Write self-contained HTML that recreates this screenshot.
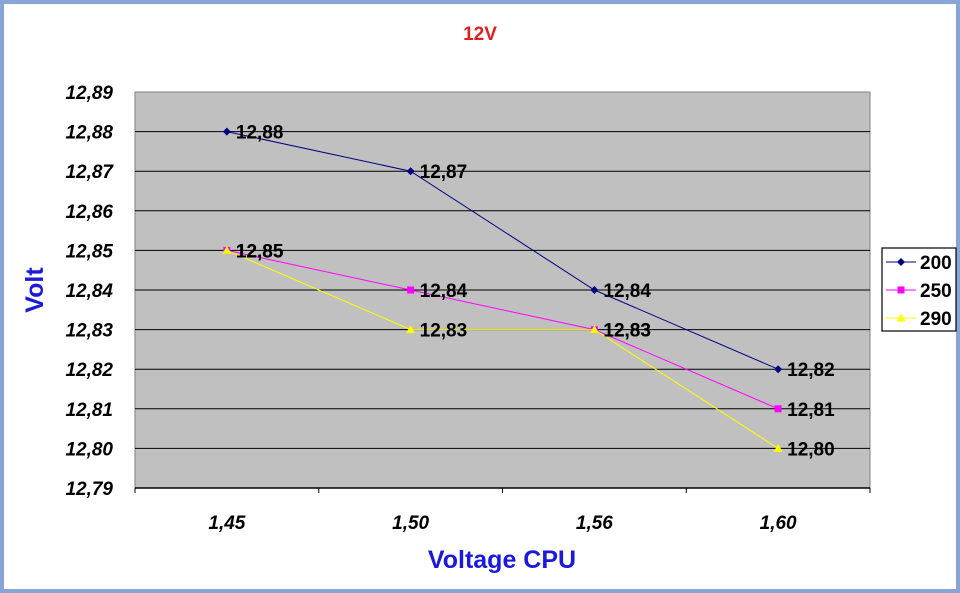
<!DOCTYPE html>
<html><head><meta charset="utf-8">
<style>
html,body{margin:0;padding:0;background:#fff;}
svg{display:block;font-family:"Liberation Sans",Arial,sans-serif;}
</style></head>
<body>
<svg id="chart" width="960" height="593" viewBox="0 0 960 593" xmlns="http://www.w3.org/2000/svg">
<rect x="0" y="0" width="960" height="593" fill="#fff"/>
<rect x="2" y="2" width="956" height="589" fill="none" stroke="#87a6d6" stroke-width="4"/>
<text x="480" y="40" text-anchor="middle" font-size="19" font-weight="bold" fill="#e02020">12V</text>
<rect x="135" y="92" width="735" height="396" fill="#c0c0c0" stroke="#808080" stroke-width="1"/>
<g id="grid"></g>
<g id="axes"></g>
<g id="series"></g>
<text transform="translate(43,290) rotate(-90)" text-anchor="middle" font-size="25" font-weight="bold" fill="#1a1ad8">Volt</text>
<text x="502" y="568" text-anchor="middle" font-size="25" font-weight="bold" fill="#1a1ad8">Voltage CPU</text>
<g id="legend">
<rect x="882" y="248" width="74" height="83" fill="#fff" stroke="#000" stroke-width="1.2"/>
</g>
</svg>
<script>
const categories = ["1,45","1,50","1,56","1,60"];
const seriesNames = ["200","250","290"];
const s200 = [12.88,12.87,12.84,12.82];
const s250 = [12.85,12.84,12.83,12.81];
const s290 = [12.85,12.83,12.83,12.80];
const yTicks = [12.79,12.80,12.81,12.82,12.83,12.84,12.85,12.86,12.87,12.88,12.89];

const NS="http://www.w3.org/2000/svg";
const X0=135,X1=870,Y0=488,Y1=92,YMIN=12.79,YMAX=12.89;
function xScale(i){return X0+(i+0.5)*(X1-X0)/categories.length;}
function yScale(v){return Y0-(v-YMIN)/(YMAX-YMIN)*(Y0-Y1);}
function mk(tag,attrs,parent){const e=document.createElementNS(NS,tag);for(const k in attrs)e.setAttribute(k,attrs[k]);parent.appendChild(e);return e;}
function fmt(v){return v.toFixed(2).replace('.',',');}

const grid=document.getElementById('grid'),axes=document.getElementById('axes'),ser=document.getElementById('series');
yTicks.forEach(t=>{
  const y=yScale(t);
  if(t>YMIN+1e-9&&t<YMAX-1e-9){
    const l=mk('line',{x1:X0,x2:X1,y1:y,y2:y,stroke:'#000','stroke-width':1},grid);
    
    
  }
  const tx=mk('text',{x:113,y:y+7,'text-anchor':'end','font-size':19,'font-weight':'bold','font-style':'italic',fill:'#000'},axes);
  tx.textContent=fmt(t);
  
  
});
const xa=mk('line',{x1:X0,x2:X1,y1:Y0,y2:Y0,stroke:'#000','stroke-width':1.5},axes);


for(let i=0;i<=categories.length;i++){
  const x=X0+i*(X1-X0)/categories.length;
  const tk=mk('line',{x1:x,x2:x,y1:Y0,y2:Y0+5,stroke:'#000','stroke-width':1},axes);
  
  
}
categories.forEach((c,i)=>{
  const tx=mk('text',{x:xScale(i),y:529,'text-anchor':'middle','font-size':19,'font-weight':'bold','font-style':'italic',fill:'#000'},axes);
  tx.textContent=c;
  
  
});

const colors=['#000080','#ff00ff','#ffff00'];
const markers=['diamond','square','triangle'];
function marker(type,x,y,color,parent){
  let e;
  if(type==='diamond')e=mk('polygon',{points:`${x},${y-4} ${x+4},${y} ${x},${y+4} ${x-4},${y}`,fill:color},parent);
  else if(type==='square')e=mk('rect',{x:x-3.5,y:y-3.5,width:7,height:7,fill:color},parent);
  else e=mk('polygon',{points:`${x},${y-4.5} ${x+4.5},${y+3.5} ${x-4.5},${y+3.5}`,fill:color},parent);
  return e;
}
[s200,s250,s290].forEach((data,si)=>{
  const g=mk('g',{},ser);
  
  
  const pl=mk('polyline',{points:data.map((v,i)=>xScale(i)+','+yScale(v)).join(' '),fill:'none',stroke:colors[si],'stroke-width':1},g);
  
  
  data.forEach((v,i)=>{
    const m=marker(markers[si],xScale(i),yScale(v),colors[si],g);
    
    
    const t=mk('text',{x:xScale(i)+9,y:yScale(v)+7,'font-size':19,'font-weight':'bold',fill:'#000'},g);
    t.textContent=fmt(v);
    
    
  });
});

const lg=document.getElementById('legend');
seriesNames.forEach((n,i)=>{
  const y=262+i*28;
  const ln=mk('line',{x1:886,x2:916,y1:y,y2:y,stroke:colors[i],'stroke-width':1},lg);
  
  
  const m=marker(markers[i],901,y,colors[i],lg);
  
  
  const t=mk('text',{x:920,y:y+7,'font-size':19,'font-weight':'bold',fill:'#000'},lg);
  t.textContent=n;
  
  
});
</script>
</body></html>
